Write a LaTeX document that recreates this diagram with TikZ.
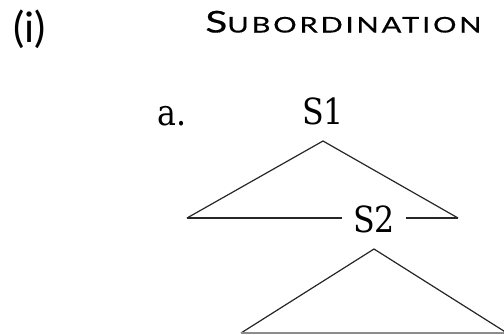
\documentclass[tikz,border=0pt]{standalone}
\usepackage{fontspec}
\newfontfamily\treefont[FakeStretch=0.88]{DejaVu Serif}
\newfontfamily\headfont{Lato}
\newfontfamily\headscfont[FakeStretch=1.35,LetterSpace=13,FakeBold=0.6]{Lato}
\usepackage{tikz}
\tikzset{
  treeline/.style = {black!85, line width=0.6pt},
  headtxt/.style  = {inner sep=0pt, font=\headfont},
  exlabel/.style  = {inner sep=0pt, font=\treefont\fontsize{18}{20}\selectfont},
  catnode/.style  = {inner xsep=5.5pt, inner ysep=7.75pt, anchor=south,
                     font=\treefont\fontsize{18}{20}\selectfont}
}

\begin{document}
\begin{tikzpicture}[x=0.5pt,y=-0.5pt]
  \clip (0,0) rectangle (504,334);
  % heading
  \node[headtxt, anchor=base west] (num) at (13,42) {\fontsize{21}{23}\selectfont (i)};
  \node[headtxt, anchor=base west] (head) at (205,32.5)
    {\headscfont\fontsize{15}{16}\selectfont S\fontsize{10.8}{12}\selectfont UBORDINATION};
  % tree
  \node[exlabel, anchor=base west] (ex) at (157,125.5) {a.};
  \node[catnode] (s1) at (323,141) {S1};
  \node[catnode] (s2) at (374,249) {S2};
  \coordinate (lc1) at (187,218);
  \coordinate (rc1) at (458,218);
  \coordinate (lc2) at (241,333);
  \coordinate (rc2) at (507,333);
  \draw[treeline] (lc1) -- (s1.south) -- (rc1);
  \draw[treeline] (lc1) -- (lc1 -| s2.west);
  \draw[treeline] (s2.east |- rc1) -- (rc1);
  \draw[treeline] (lc2) -- (s2.south) -- (rc2);
  \draw[treeline, black!45] (lc2) -- (rc2);
\end{tikzpicture}
\end{document}
